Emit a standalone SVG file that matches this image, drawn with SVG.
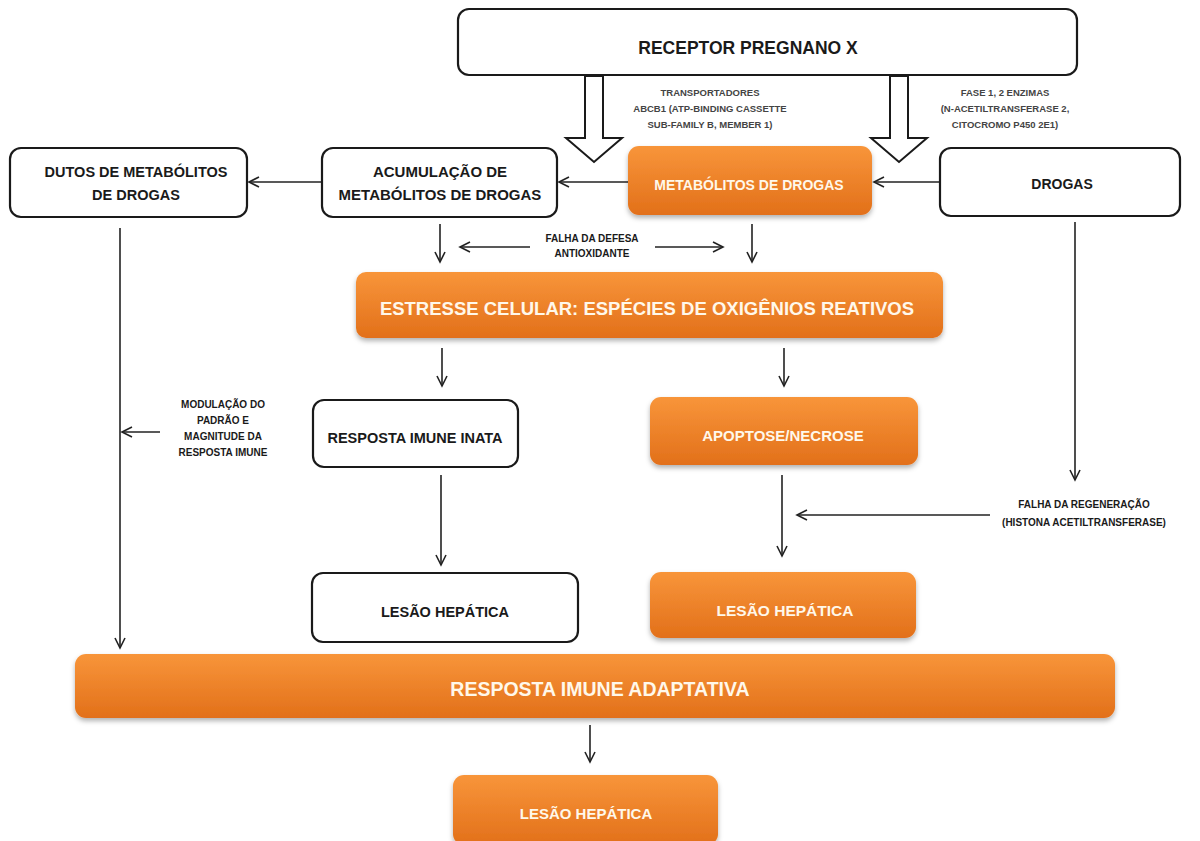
<svg xmlns="http://www.w3.org/2000/svg" width="1200" height="841" viewBox="0 0 1200 841">
<defs>
<linearGradient id="og" x1="0" y1="0" x2="0" y2="1">
<stop offset="0" stop-color="#f8953a"/>
<stop offset="1" stop-color="#e2701a"/>
</linearGradient>
<filter id="sh" x="-5%" y="-20%" width="110%" height="150%">
<feDropShadow dx="0" dy="3" stdDeviation="2.5" flood-color="#000" flood-opacity="0.3"/>
</filter>
<marker id="ah" markerUnits="userSpaceOnUse" markerWidth="14" markerHeight="14" refX="11" refY="6" orient="auto">
<path d="M1,1 L11,6 L1,11" fill="none" stroke="#222" stroke-width="1.6"/>
</marker>
</defs>
<style>
.wb{fill:#fff;stroke:#1a1a1a;stroke-width:2.2}
.ob{fill:url(#og);filter:url(#sh)}
.t{font-family:"Liberation Sans",Arial,sans-serif;font-weight:bold;text-anchor:middle}
.dk{fill:#1a1a1a}
.wt{fill:#fff8ea}
.sm{fill:#444;font-size:9.5px}
.lb{fill:#1a1a1a;font-size:10px}
.c{stroke:#222;stroke-width:1.6;fill:none}
.ha{fill:#fff;stroke:#1a1a1a;stroke-width:2}
</style>
<rect width="1200" height="841" fill="#fff"/>

<g id="connectors">
<polygon class="ha" points="585,76 603,76 603,138 622,138 594,162 566,138 585,138"/>
<polygon class="ha" points="890,76 908,76 908,138 927,138 899,162 871,138 890,138"/>
<line class="c" x1="940" y1="182" x2="874" y2="182" marker-end="url(#ah)"/>
<line class="c" x1="628" y1="182" x2="559" y2="182" marker-end="url(#ah)"/>
<line class="c" x1="322" y1="182" x2="249" y2="182" marker-end="url(#ah)"/>
<line class="c" x1="440" y1="224" x2="440" y2="262" marker-end="url(#ah)"/>
<line class="c" x1="752" y1="224" x2="752" y2="262" marker-end="url(#ah)"/>
<line class="c" x1="530" y1="247" x2="460" y2="247" marker-end="url(#ah)"/>
<line class="c" x1="655" y1="247" x2="723" y2="247" marker-end="url(#ah)"/>
<line class="c" x1="442" y1="348" x2="442" y2="386" marker-end="url(#ah)"/>
<line class="c" x1="784" y1="348" x2="784" y2="386" marker-end="url(#ah)"/>
<line class="c" x1="120" y1="228" x2="120" y2="648" marker-end="url(#ah)"/>
<line class="c" x1="160" y1="432" x2="122" y2="432" marker-end="url(#ah)"/>
<line class="c" x1="441" y1="475" x2="441" y2="565" marker-end="url(#ah)"/>
<line class="c" x1="782" y1="475" x2="782" y2="556" marker-end="url(#ah)"/>
<line class="c" x1="1075" y1="222" x2="1075" y2="480" marker-end="url(#ah)"/>
<line class="c" x1="990" y1="515" x2="797" y2="515" marker-end="url(#ah)"/>
<line class="c" x1="590" y1="725" x2="590" y2="762" marker-end="url(#ah)"/>
</g>

<g id="lbl-transportadores">
<text class="t sm" x="710" y="96">TRANSPORTADORES</text>
<text class="t sm" x="710" y="112">ABCB1 (ATP-BINDING CASSETTE</text>
<text class="t sm" x="710" y="128">SUB-FAMILY B, MEMBER 1)</text>
</g>
<g id="lbl-fase">
<text class="t sm" x="1005" y="96">FASE 1, 2 ENZIMAS</text>
<text class="t sm" x="1005" y="112">(N-ACETILTRANSFERASE 2,</text>
<text class="t sm" x="1005" y="128">CITOCROMO P450 2E1)</text>
</g>
<g id="lbl-falha-defesa">
<text class="t lb" x="592" y="242">FALHA DA DEFESA</text>
<text class="t lb" x="592" y="257">ANTIOXIDANTE</text>
</g>
<g id="lbl-modulacao">
<text class="t lb" x="223" y="408" font-size="11">MODULAÇÃO DO</text>
<text class="t lb" x="223" y="424" font-size="11">PADRÃO E</text>
<text class="t lb" x="223" y="440" font-size="11">MAGNITUDE DA</text>
<text class="t lb" x="223" y="456" font-size="11">RESPOSTA IMUNE</text>
</g>
<g id="lbl-regeneracao">
<text class="t lb" x="1084" y="508" font-size="11.5">FALHA DA REGENERAÇÃO</text>
<text class="t lb" x="1084" y="526" font-size="11.5">(HISTONA ACETILTRANSFERASE)</text>
</g>

<g id="n-receptor">
<rect class="wb" x="458" y="9" width="619" height="66" rx="11"/>
<text class="t dk" x="748" y="54" font-size="17.5">RECEPTOR PREGNANO X</text>
</g>
<g id="n-dutos">
<rect class="wb" x="10" y="148" width="237" height="69" rx="11"/>
<text class="t dk" x="136" y="177" font-size="14.5">DUTOS DE METABÓLITOS</text>
<text class="t dk" x="136" y="200" font-size="14.5">DE DROGAS</text>
</g>
<g id="n-acumulacao">
<rect class="wb" x="322" y="148" width="235" height="69" rx="11"/>
<text class="t dk" x="440" y="177" font-size="15">ACUMULAÇÃO DE</text>
<text class="t dk" x="440" y="200" font-size="15">METABÓLITOS DE DROGAS</text>
</g>
<g id="n-metabolitos">
<rect class="ob" x="628" y="146" width="244" height="69" rx="11"/>
<text class="t wt" x="749" y="190" font-size="14">METABÓLITOS DE DROGAS</text>
</g>
<g id="n-drogas">
<rect class="wb" x="940" y="148" width="240" height="68" rx="11"/>
<text class="t dk" x="1062" y="189" font-size="14">DROGAS</text>
</g>
<g id="n-estresse">
<rect class="ob" x="356" y="272" width="587" height="66" rx="10"/>
<text class="t wt" x="647" y="315" font-size="18.5">ESTRESSE CELULAR: ESPÉCIES DE OXIGÊNIOS REATIVOS</text>
</g>
<g id="n-inata">
<rect class="wb" x="313" y="400" width="205" height="67" rx="11"/>
<text class="t dk" x="415" y="443" font-size="14.5">RESPOSTA IMUNE INATA</text>
</g>
<g id="n-apoptose">
<rect class="ob" x="650" y="397" width="268" height="68" rx="11"/>
<text class="t wt" x="783" y="441" font-size="15">APOPTOSE/NECROSE</text>
</g>
<g id="n-lesao1">
<rect class="wb" x="312" y="573" width="266" height="69" rx="11"/>
<text class="t dk" x="445" y="617" font-size="14.5">LESÃO HEPÁTICA</text>
</g>
<g id="n-lesao2">
<rect class="ob" x="650" y="572" width="266" height="66" rx="11"/>
<text class="t wt" x="785" y="616" font-size="15.5">LESÃO HEPÁTICA</text>
</g>
<g id="n-adaptativa">
<rect class="ob" x="75" y="654" width="1040" height="64" rx="11"/>
<text class="t wt" x="600" y="696" font-size="19.5">RESPOSTA IMUNE ADAPTATIVA</text>
</g>
<g id="n-lesao3">
<rect class="ob" x="453" y="775" width="265" height="70" rx="11"/>
<text class="t wt" x="586" y="819" font-size="15">LESÃO HEPÁTICA</text>
</g>
</svg>
